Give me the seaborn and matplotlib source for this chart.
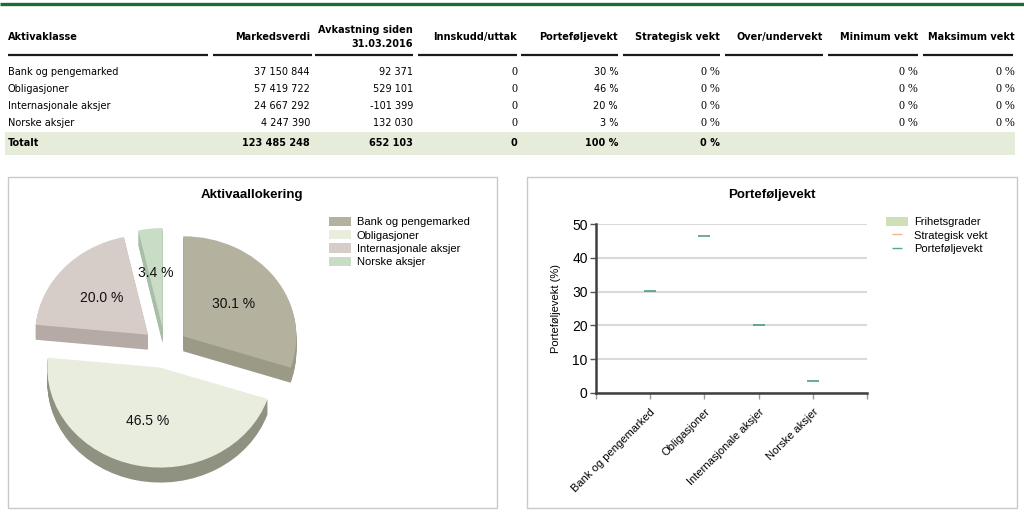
import matplotlib
matplotlib.use("Agg")
import matplotlib.pyplot as plt
from matplotlib.patches import Rectangle, Patch
from matplotlib.lines import Line2D
import numpy as np
import seaborn as sns

# ---- data ----
categories = ["Bank og pengemarked", "Obligasjoner", "Internasjonale aksjer", "Norske aksjer"]
markedsverdi = [37150844, 57419722, 24667292, 4247390]
avkastning = [92371, 529101, -101399, 132030]
innskudd = [0, 0, 0, 0]
strategisk = [0, 0, 0, 0]
minimum = [0, 0, 0, 0]
maksimum = [0, 0, 0, 0]

headers = ["Aktivaklasse", "Markedsverdi", "Avkastning siden\n31.03.2016", "Innskudd/uttak",
           "Porteføljevekt", "Strategisk vekt", "Over/undervekt", "Minimum vekt", "Maksimum vekt"]

total = sum(markedsverdi)
vekt_pct = [100 * v / total for v in markedsverdi]


def fmt(v):
    return f"{v:,}".replace(",", " ")


W, H = 1024, 518
fig = plt.figure(figsize=(W / 100, H / 100), dpi=100)

bg = fig.add_axes([0, 0, 1, 1])
bg.set_xlim(0, W)
bg.set_ylim(H, 0)
bg.axis('off')

# ---- table ----
sans = 'DejaVu Sans'
serif = 'Liberation Serif'
fs = 7
fz = 8.5  # serif zeros

bg.plot([0, W], [4, 4], color='#1d6b38', lw=2.4, solid_capstyle='butt')

col_right = [310, 413, 517, 618, 720, 823, 918, 1015]
segs = [(8, 208), (213, 312), (315, 413), (418, 517), (521, 618),
        (623, 720), (725, 823), (828, 918), (923, 1013)]

bg.text(8, 37, headers[0], ha='left', va='center', fontsize=fs, fontweight='bold', family=sans)
for h, x in zip(headers[1:], col_right):
    bg.text(x, 37, h, ha='right', va='center', fontsize=fs, fontweight='bold',
            family=sans, multialignment='right', linespacing=1.45)
for a, b in segs:
    bg.plot([a, b], [55, 55], color='#1a1a1a', lw=1.6, solid_capstyle='butt')

row_y = [72, 89, 106, 123]
for i, y in enumerate(row_y):
    bg.text(8, y, categories[i], ha='left', va='center', fontsize=fs, family=sans)
    bg.text(col_right[0], y, fmt(markedsverdi[i]), ha='right', va='center', fontsize=fs, family=sans)
    bg.text(col_right[1], y, fmt(avkastning[i]), ha='right', va='center', fontsize=fs, family=sans)
    bg.text(col_right[2], y, fmt(innskudd[i]), ha='right', va='center', fontsize=fz, family=serif)
    bg.text(col_right[3], y, f"{round(vekt_pct[i])} %", ha='right', va='center', fontsize=fs, family=sans)
    bg.text(col_right[4], y, f"{strategisk[i]} %", ha='right', va='center', fontsize=fz, family=serif)
    bg.text(col_right[6], y, f"{minimum[i]} %", ha='right', va='center', fontsize=fz, family=serif)
    bg.text(col_right[7], y, f"{maksimum[i]} %", ha='right', va='center', fontsize=fz, family=serif)

bg.add_patch(Rectangle((5, 132), 1010, 23, color='#e6ecda', lw=0))
ty = 143
bg.text(8, ty, "Totalt", ha='left', va='center', fontsize=fs, fontweight='bold', family=sans)
bg.text(col_right[0], ty, fmt(sum(markedsverdi)), ha='right', va='center', fontsize=fs, fontweight='bold', family=sans)
bg.text(col_right[1], ty, fmt(sum(avkastning)), ha='right', va='center', fontsize=fs, fontweight='bold', family=sans)
bg.text(col_right[2], ty, fmt(sum(innskudd)), ha='right', va='center', fontsize=fs, fontweight='bold', family=sans)
bg.text(col_right[3], ty, f"{round(sum(vekt_pct))} %", ha='right', va='center', fontsize=fs, fontweight='bold', family=sans)
bg.text(col_right[4], ty, f"{sum(strategisk)} %", ha='right', va='center', fontsize=fs, fontweight='bold', family=sans)

# panel frames and titles
bg.add_patch(Rectangle((8, 177), 489, 331, fill=False, ec='#c9c9c9', lw=1))
bg.add_patch(Rectangle((527, 177), 490, 331, fill=False, ec='#c9c9c9', lw=1))
bg.text(252, 195, "Aktivaallokering", ha='center', va='center', fontsize=9.5,
        fontweight='bold', family='Liberation Sans')
bg.text(772, 195, "Porteføljevekt", ha='center', va='center', fontsize=9.5,
        fontweight='bold', family='Liberation Sans')

# ---- pie (pseudo 3D) ----
top_cols = ['#b4b29f', '#e9eddd', '#d6ccc8', '#c8dcc6']
side_cols = ['#9b9a86', '#8f9281', '#b5aaa6', '#a8bea6']
explode = [0.2] * 4
pax = fig.add_axes([20 / W, 1 - 500 / H, 300 / W, 290 / H])
for d in np.linspace(0.15, 0.0, 16)[:-1]:
    pax.pie(markedsverdi, explode=explode, colors=side_cols, startangle=90,
            counterclock=False, center=(0, -d), wedgeprops=dict(linewidth=0))
wedges, _, autotexts = pax.pie(
    markedsverdi, explode=explode, colors=top_cols, startangle=90, counterclock=False,
    autopct=lambda p: f"{p:.1f} %", pctdistance=0.55,
    textprops=dict(fontsize=10, family='Liberation Sans', color='#111111'),
    wedgeprops=dict(linewidth=0))
pax.set_aspect('auto')
pax.set_xlim(-145 / 113, 155 / 113)
pax.set_ylim(-152 / 100, 138 / 100)
pax.axis('off')
pax.legend(wedges, categories, loc='upper left', bbox_to_anchor=(329 / W, 1 - 217 / H),
           bbox_transform=fig.transFigure, frameon=False,
           prop=dict(family='Liberation Sans', size=8), handlelength=2.0, handleheight=0.9,
           handletextpad=0.5, labelspacing=0.25, borderaxespad=0, borderpad=0)

# ---- Porteføljevekt chart ----
cax = fig.add_axes([596 / W, 1 - 393 / H, 271 / W, 169 / H])
sns.scatterplot(x=categories, y=strategisk, marker='_', s=50, linewidth=1,
                color='#f2b597', ax=cax, zorder=1)
sns.scatterplot(x=categories, y=vekt_pct, marker='_', s=80, linewidth=1.2,
                color='#4f9c8e', ax=cax, zorder=3)
cax.set_xlim(-1, 4)
cax.set_ylim(0, 50)
cax.set_yticks(range(0, 51, 10))
cax.set_xticks(range(4))
cax.set_xticklabels(categories, rotation=45, ha='right', rotation_mode='anchor',
                    family='Liberation Sans', fontsize=8)
cax.set_xticks([-1, 4], minor=True)
cax.tick_params(axis='y', labelsize=10, length=4, width=1, color='#555555', pad=2)
cax.tick_params(axis='x', which='both', length=4, width=1, color='#999999', pad=6)
for lab in cax.get_yticklabels():
    lab.set_family('Liberation Sans')
cax.grid(axis='y', color='#dadada', lw=1.5)
cax.set_axisbelow(True)
for s in ['top', 'right']:
    cax.spines[s].set_visible(False)
for s in ['left', 'bottom']:
    cax.spines[s].set_color('#404040')
    cax.spines[s].set_linewidth(1.8)
cax.set_ylabel('Porteføljevekt (%)', family='Liberation Sans', fontsize=8, labelpad=8)
cax.set_xlabel('')

handles = [Patch(facecolor='#cfe0b9', edgecolor='none'),
           Line2D([], [], color='#f2b597', marker='_', ls='none', markersize=7),
           Line2D([], [], color='#5aa396', marker='_', ls='none', markersize=7)]
cax.legend(handles, ['Frihetsgrader', 'Strategisk vekt', 'Porteføljevekt'],
           loc='upper left', bbox_to_anchor=(886 / W, 1 - 217 / H),
           bbox_transform=fig.transFigure, frameon=False,
           prop=dict(family='Liberation Sans', size=8), handlelength=2.0, handleheight=0.9,
           handletextpad=0.5, labelspacing=0.25, borderaxespad=0, borderpad=0)

fig.savefig('out.png', dpi=100)
